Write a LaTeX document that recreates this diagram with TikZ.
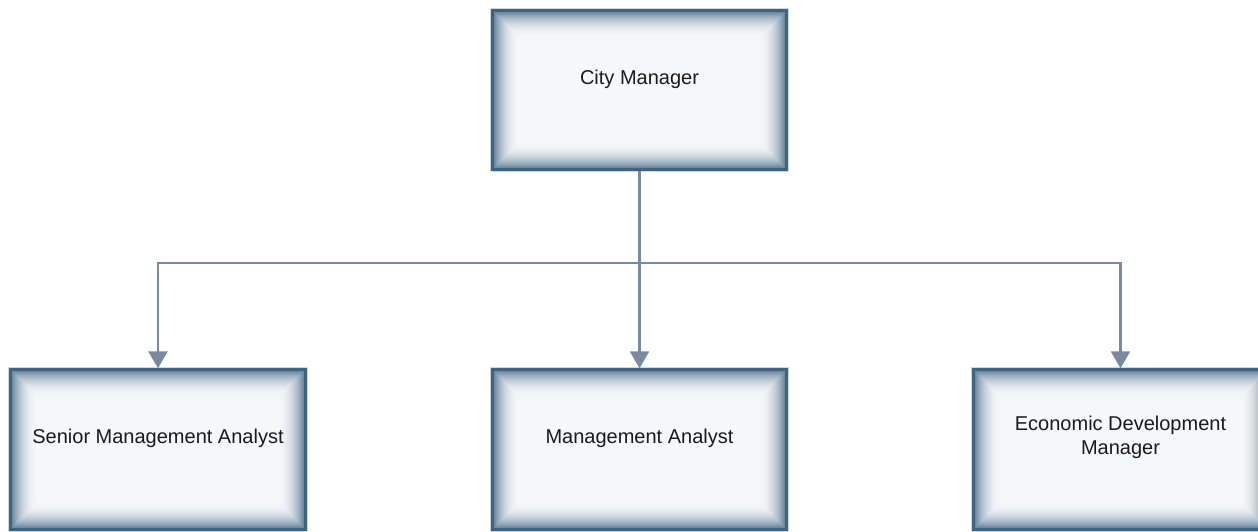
\documentclass[tikz,border=0pt]{standalone}
\usepackage{fontspec}
\setmainfont{Liberation Sans}
\usetikzlibrary{arrows.meta}
\definecolor{edgeblue}{HTML}{3F6482}
\definecolor{paper}{HTML}{F5F7F9}
\definecolor{wire}{HTML}{7889A0}
\definecolor{ink}{HTML}{1A1A1A}
\tikzset{
  orgbox/.style={rectangle, inner sep=0pt, minimum width=297pt, minimum height=162pt, fill=paper},
  orgtext/.style={text=ink, font=\fontsize{20}{24}\selectfont, align=center, inner sep=0pt},
  wirearrow/.style={draw=wire, line width=2.5pt, -{Triangle[length=17pt,width=19pt]}},
  wireline/.style={draw=wire, line width=2.5pt},
}
\begin{document}
\begin{tikzpicture}[x=1pt,y=-1pt]
\useasboundingbox (0,0) rectangle (1258,531);
\fill[white] (0,0) rectangle (1258,531);

% position boxes
\node[orgbox] (top) at (639.5,90) {};
\node[orgbox] (sma) at (158,449.5) {};
\node[orgbox] (ma)  at (639.5,449.5) {};
\node[orgbox] (edm) at (1120.5,449.5) {};

% inner glow and dark frame of every box
\foreach \n in {top,sma,ma,edm}{
  \draw[edgeblue!25, line width=1pt] ([shift={(-0.5,-0.5)}]\n.north west) rectangle ([shift={(0.5,0.5)}]\n.south east);
  \foreach \k in {3,...,30}{
    \pgfmathsetmacro\p{75*(1-(\k-3)/27)^2.3}
    \draw[edgeblue!\p!paper, line width=1.2pt]
      ([shift={(\k+0.5,\k+0.5)}]\n.north west) rectangle ([shift={(-\k-0.5,-\k-0.5)}]\n.south east);
  }
  \draw[edgeblue, line width=3pt] ([shift={(1.5,1.5)}]\n.north west) rectangle ([shift={(-1.5,-1.5)}]\n.south east);
}

% labels (canvas y points up, so a positive yshift raises them)
\node[orgtext, anchor=base] (topl) at ([yshift=6pt]top.center) {City Manager};
\node[orgtext, anchor=base] (smal) at ([yshift=6pt]sma.center) {Senior Management Analyst};
\node[orgtext, anchor=base] (mal)  at ([yshift=6pt]ma.center) {Management Analyst};
\node[orgtext, anchor=center] (edml) at ([yshift=12pt]edm.center) {Economic Development\\Manager};

% connectors
\coordinate (bus) at (0,263);
\draw[wireline] (top.south) -- (top.south |- bus);
\draw[wirearrow] (top.south |- bus) -| (sma.north);
\draw[wirearrow] (top.south |- bus) -- (ma.north);
\draw[wirearrow] (top.south |- bus) -| (edm.north);
\end{tikzpicture}
\end{document}
